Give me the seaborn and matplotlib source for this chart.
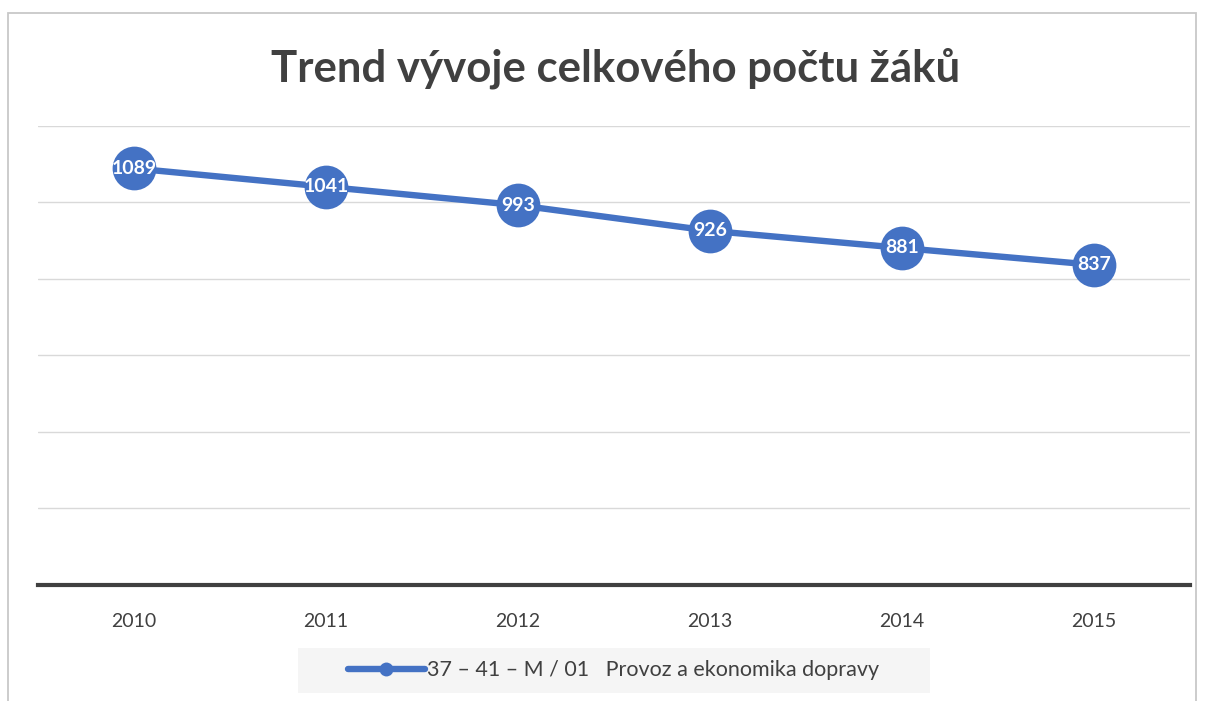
import pandas as pd
import matplotlib.pyplot as plt
import seaborn as sns
from matplotlib.patches import Rectangle

years = ['2010', '2011', '2012', '2013', '2014', '2015']
students = [1089, 1041, 993, 926, 881, 837]
series_name = '37 – 41 – M / 01   Provoz a ekonomika dopravy'
title = 'Trend vývoje celkového počtu žáků'

sns.set_style('white')
plt.rcParams['font.family'] = ['Lato', 'DejaVu Sans']

df = pd.DataFrame({'rok': years, 'zaci': students})
blue = '#4472C4'
dark = '#404040'

fig = plt.figure(figsize=(12.1, 7.01), dpi=100)
ax = fig.add_axes([0.0314, 0.1655, 0.952, 0.6548])

sns.lineplot(data=df, x='rok', y='zaci', ax=ax, color=blue, linewidth=4.6,
             marker='o', markersize=31.5, markeredgewidth=0, sort=False,
             label=series_name, legend=False)

for i, v in enumerate(students):
    ax.text(i, v, str(v), ha='center', va='center', color='white',
            fontsize=14, fontweight='bold')

ax.set_xlim(-0.5, len(years) - 0.5)
ax.set_ylim(0, 1200)
ax.set_yticks(range(0, 1201, 200))
ax.set_yticklabels([])
ax.tick_params(axis='y', length=0)
ax.tick_params(axis='x', length=0, labelsize=14, labelcolor=dark, pad=20)
ax.yaxis.grid(True, color='#d9d9d9', linewidth=1)
ax.set_axisbelow(True)
ax.set_xlabel('')
ax.set_ylabel('')
for s in ['top', 'right', 'left']:
    ax.spines[s].set_visible(False)
ax.spines['bottom'].set_color(dark)
ax.spines['bottom'].set_linewidth(3)
ax.spines['bottom'].set_zorder(5)

fig.text(0.509, 0.903, title, ha='center', va='center', fontsize=31.5,
         fontweight='bold', color=dark)

# legend background box
fig.patches.append(Rectangle((298 / 1210, 8 / 701), 632 / 1210, 45 / 701,
                             transform=fig.transFigure, facecolor='#f5f5f5',
                             edgecolor='none', zorder=0))
handle = plt.Line2D([], [], color=blue, linewidth=4.6, marker='o',
                    markersize=10, markeredgewidth=0)
leg = fig.legend([handle], [series_name], loc='center',
                 bbox_to_anchor=(0.507, 0.044), frameon=False, fontsize=15.5,
                 handlelength=3.6, handletextpad=0.1, labelcolor=dark)

fig.patches.append(Rectangle((0.0066, -0.01), 0.982, 0.9914, transform=fig.transFigure,
                             fill=False, edgecolor='#c8c8c8', linewidth=1.3))

fig.savefig('out.png', dpi=100)
